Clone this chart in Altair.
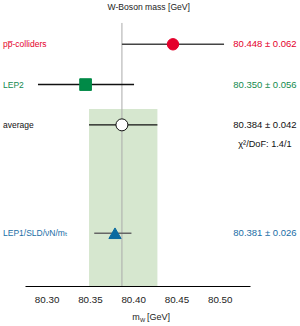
import altair as alt
import pandas as pd

# ---- data ----
names = ["pp\u0305-colliders", "LEP2", "average", "LEP1/SLD/\u03bdN/m\u209c"]
rows = [1, 2, 3, 5.69]
centers = [80.446, 80.345, 80.387, 80.379]
lows = [80.387, 80.290, 80.349, 80.355]
highs = [80.505, 80.401, 80.428, 80.398]
value_labels = ["80.448 \u00b1 0.062", "80.350 \u00b1 0.056", "80.384 \u00b1 0.042", "80.381 \u00b1 0.026"]
chi2_label = "\u03c7\u00b2/DoF: 1.4/1"
chi2_row = 3.475

band_lo, band_hi, band_top = 80.349, 80.428, 2.606
avg_line, avg_line_top = 80.387, 0.47
tick_values = [80.30, 80.35, 80.40, 80.45, 80.50]

# ---- styles ----
text_colors = ["#e4002b", "#138a4e", "#111111", "#1a6ea6"]
fill_colors = ["#e4002b", "#008a47", "#ffffff", "#0a6aa0"]
stroke_colors = ["#e4002b", "#008a47", "#111111", "#0a6aa0"]
bar_colors = ["#444444", "#111111", "#111111", "#666666"]
bar_widths = [1.6, 1.3, 1.0, 2.0]
shapes = ["circle", "square", "circle", "triangle-up"]
sizes = [130, 150, 150, 110]
FONT = "Liberation Sans, DejaVu Sans"

df = pd.DataFrame({"name": names, "row": rows, "center": centers, "lo": lows,
                   "hi": highs, "label": value_labels})
band_df = pd.DataFrame({"lo": [band_lo], "hi": [band_hi], "top": [band_top], "bottom": [7.0]})

xs = alt.Scale(domain=[80.275, 80.535], nice=False, zero=False)
ys = alt.Scale(domain=[-0.1, 7.0], nice=False, zero=False, reverse=True)

def sc(rng):
    return alt.Scale(domain=names, range=rng)

band = alt.Chart(band_df).mark_rect(color="#d6e7cf").encode(
    x=alt.X("lo:Q", scale=xs, axis=alt.Axis(values=tick_values, format=".2f", title=None,
            grid=False, ticks=False, domainColor="#000", domainWidth=1,
            labelFontSize=9.8, labelColor="#222", labelFont=FONT, labelPadding=8)),
    x2="hi:Q",
    y=alt.Y("top:Q", scale=ys, axis=None),
    y2="bottom:Q",
)

vline = alt.Chart(band_df).mark_rule(color="#aaaaaa", strokeWidth=1).encode(
    x=alt.datum(avg_line, scale=xs),
    y=alt.datum(avg_line_top, scale=ys),
    y2=alt.datum(7.0),
)

bars = alt.Chart(df).mark_rule().encode(
    x=alt.X("lo:Q", scale=xs), x2="hi:Q",
    y=alt.Y("row:Q", scale=ys),
    stroke=alt.Stroke("name:N", scale=sc(bar_colors), legend=None),
    strokeWidth=alt.StrokeWidth("name:N", scale=sc(bar_widths), legend=None),
)

points = alt.Chart(df).mark_point(filled=False, strokeWidth=1, opacity=1).encode(
    x=alt.X("center:Q", scale=xs),
    y=alt.Y("row:Q", scale=ys),
    fill=alt.Fill("name:N", scale=sc(fill_colors), legend=None),
    stroke=alt.Stroke("name:N", scale=sc(stroke_colors), legend=None),
    shape=alt.Shape("name:N", scale=sc(shapes), legend=None),
    size=alt.Size("name:N", scale=sc(sizes), legend=None),
)

left_text = alt.Chart(df).mark_text(align="left", baseline="middle", fontSize=8.5, font=FONT).encode(
    x=alt.datum(80.2496, scale=xs),
    y=alt.Y("row:Q", scale=ys),
    text="name:N",
    color=alt.Color("name:N", scale=sc(text_colors), legend=None),
)

right_text = alt.Chart(df).mark_text(align="center", baseline="middle", fontSize=9.5, font=FONT).encode(
    x=alt.datum(80.5523, scale=xs),
    y=alt.Y("row:Q", scale=ys),
    text="label:N",
    color=alt.Color("name:N", scale=sc(text_colors), legend=None),
)

chi2 = alt.Chart(band_df).mark_text(align="center", baseline="middle", fontSize=9.2, font=FONT,
                                    color="#111").encode(
    x=alt.datum(80.5523, scale=xs), y=alt.datum(chi2_row, scale=ys), text=alt.value(chi2_label))

title = alt.Chart(band_df).mark_text(align="center", baseline="middle", fontSize=8.6, font=FONT,
                                     color="#222").encode(
    x=alt.datum(80.418, scale=xs), y=alt.datum(0.074, scale=ys), text=alt.value("W-Boson mass [GeV]"))

xt_m = alt.Chart(band_df).mark_text(align="right", baseline="middle", fontSize=9, font=FONT,
                                    color="#222").encode(
    x=alt.datum(80.4075, scale=xs), y=alt.datum(7.77, scale=ys), text=alt.value("m"))
xt_w = alt.Chart(band_df).mark_text(align="left", baseline="middle", fontSize=5.5, font=FONT,
                                    color="#222").encode(
    x=alt.datum(80.4080, scale=xs), y=alt.datum(7.85, scale=ys), text=alt.value("W"))
xt_gev = alt.Chart(band_df).mark_text(align="left", baseline="middle", fontSize=9, font=FONT,
                                      color="#222").encode(
    x=alt.datum(80.4160, scale=xs), y=alt.datum(7.77, scale=ys), text=alt.value("[GeV]"))

chart = alt.layer(band, vline, bars, points, left_text, right_text, chi2, title,
                  xt_m, xt_w, xt_gev).resolve_scale(
    stroke="independent", color="independent").properties(
    width=225, height=286,
    autosize=alt.AutoSizeParams(type="none"),
    padding={"left": 25, "right": 50, "top": 0, "bottom": 40},
    background="white",
).configure_view(stroke=None)

chart.save("out.html", embed_options={"renderer": "svg", "actions": False})
